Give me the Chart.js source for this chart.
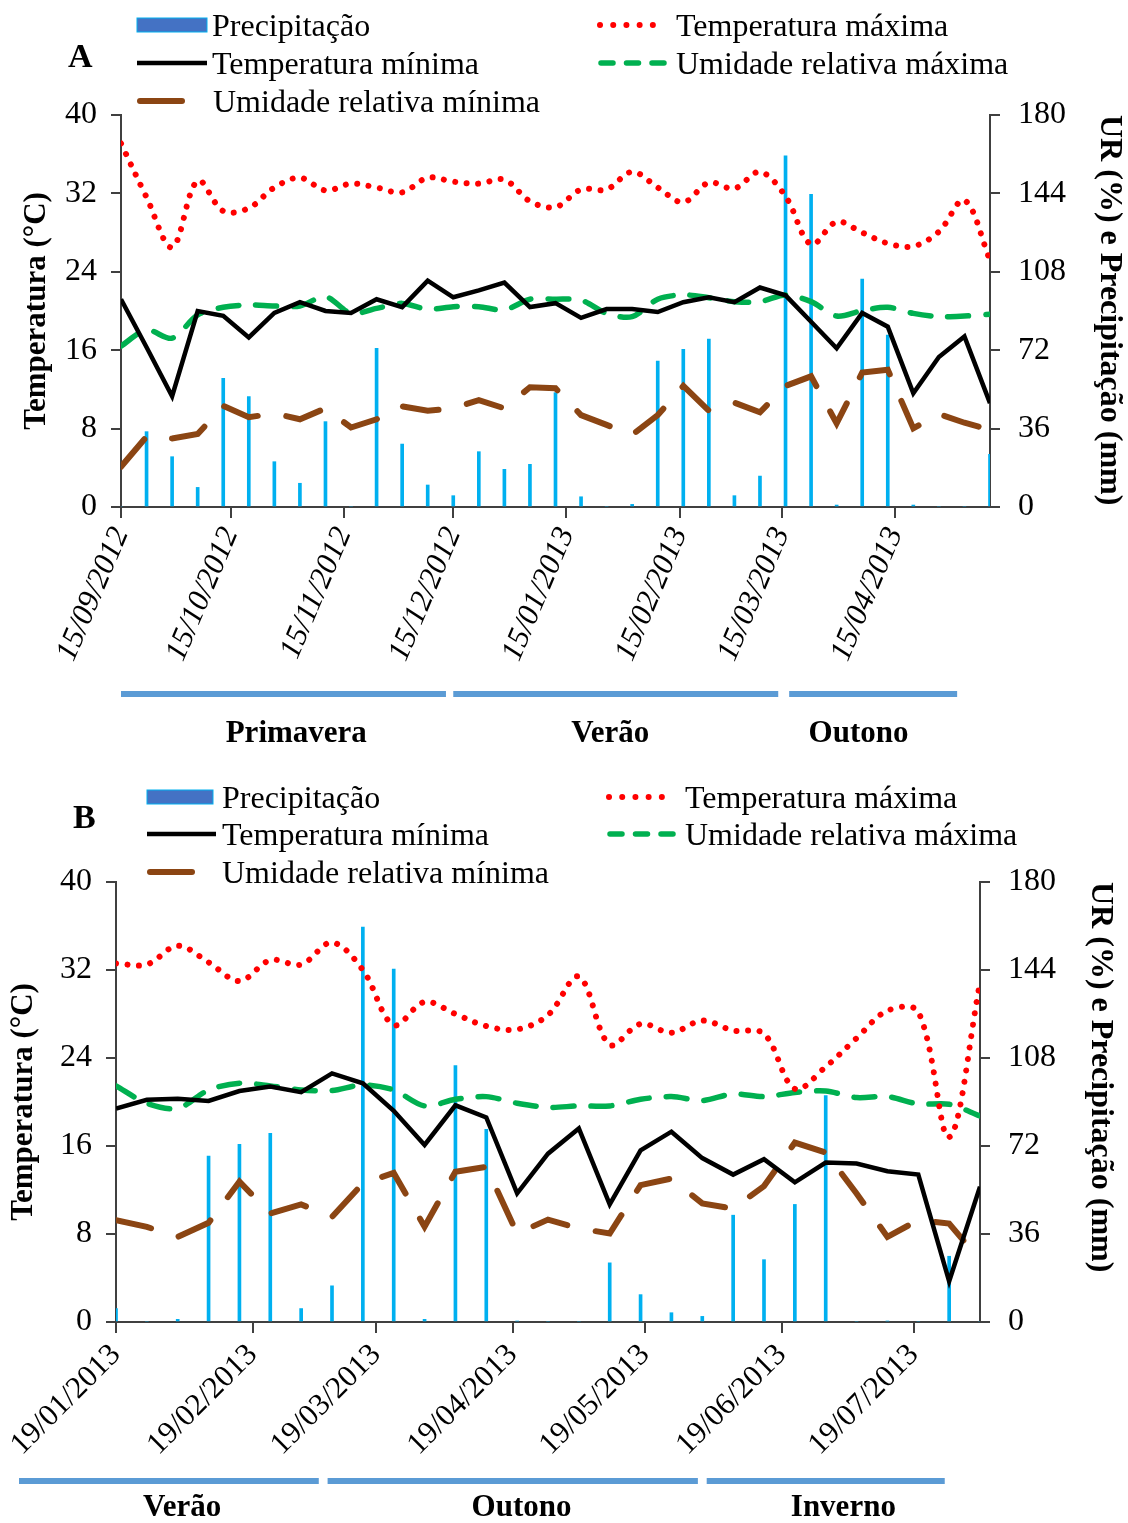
<!DOCTYPE html>
<html><head><meta charset="utf-8">
<script src="https://cdn.jsdelivr.net/npm/chart.js@4.4.1/dist/chart.umd.min.js"></script>
<style>
html,body{margin:0;padding:0;background:#fff;}
#wrap{position:relative;width:1128px;height:1523px;overflow:hidden;background:#fff;}
canvas{position:absolute;left:0;}
</style></head><body>
<div id="wrap">
<canvas id="cA" width="1128" height="770" style="top:0px"></canvas>
<canvas id="cB" width="1128" height="753" style="top:770px"></canvas>
</div>
<script>
// ---------------- Panel A data ----------------
const datesA = ['15/09/2012','22/09/2012','29/09/2012','06/10/2012','13/10/2012','20/10/2012','27/10/2012',
  '03/11/2012','10/11/2012','17/11/2012','24/11/2012','01/12/2012','08/12/2012','15/12/2012','22/12/2012',
  '29/12/2012','05/01/2013','12/01/2013','19/01/2013','26/01/2013','02/02/2013','09/02/2013','16/02/2013',
  '23/02/2013','02/03/2013','09/03/2013','16/03/2013','23/03/2013','30/03/2013','06/04/2013','13/04/2013',
  '20/04/2013','27/04/2013','04/05/2013','11/05/2013'];
const precipA = [0,34.6,23.1,9.0,59.1,50.7,20.8,10.9,39.2,0,72.9,28.9,10.1,5.2,25.4,17.3,19.6,52.5,4.7,0,
  1.2,67.0,72.4,77.1,5.2,14.2,161.2,143.6,0.9,104.7,79.0,0.9,0,0,24.2];
const tmaxA = [37.1,31.6,26.5,33.3,30.2,30.5,32.6,33.6,32.3,33.0,32.6,32.1,33.6,33.2,33.0,33.4,31.2,30.6,32.4,32.4,
  34.2,32.6,31.1,33.1,32.5,34.2,31.7,26.8,29.1,28.0,26.9,26.6,28.1,31.3,25.2];
const tminA = [21.2,16.3,11.3,20.0,19.5,17.3,19.8,20.9,20.0,19.8,21.2,20.4,23.1,21.4,22.1,22.9,20.4,20.8,19.3,20.2,
  20.2,19.9,20.9,21.4,20.9,22.4,21.6,18.9,16.2,19.8,18.4,11.6,15.3,17.4,10.6];
const urmaxA = [73.9,81.3,77.5,88.2,91.7,92.8,92.3,92.3,96.6,88.9,91.2,93.5,90.8,92.0,92.0,90.5,95.4,95.4,95.0,88.9,
  87.4,95.4,97.4,96.1,94.3,94.3,97.4,94.3,87.7,90.2,91.7,88.9,87.4,87.7,88.5];
const urminA = [18.5,32.3,31.5,33.5,46.4,41.2,43.0,40.3,45.3,36.5,40.3,46.2,44.2,45.3,49.1,45.3,55.0,54.5,42.2,37.7,
  33.1,42.2,55.6,44.2,47.9,43.5,55.6,60.0,38.4,61.7,63.0,36.1,42.7,38.7,35.5];
const tickLabelsA = ['15/09/2012','15/10/2012','15/11/2012','15/12/2012','15/01/2013','15/02/2013','15/03/2013','15/04/2013'];
const seasonNamesA = ['Primavera','Verão','Outono'];
const seasonStartA = ['15/09/2012','15/12/2012','17/03/2013'];
const seasonEndA = ['13/12/2012','14/03/2013','02/05/2013'];
const seasonLabelAtA = ['02/11/2012','27/01/2013','05/04/2013'];

// ---------------- Panel B data ----------------
const datesB = ['19/01/2013','26/01/2013','02/02/2013','09/02/2013','16/02/2013','23/02/2013','02/03/2013',
  '09/03/2013','16/03/2013','23/03/2013','30/03/2013','06/04/2013','13/04/2013','20/04/2013','27/04/2013',
  '04/05/2013','11/05/2013','18/05/2013','25/05/2013','01/06/2013','08/06/2013','15/06/2013','22/06/2013',
  '29/06/2013','06/07/2013','13/07/2013','20/07/2013','27/07/2013','03/08/2013'];
const precipB = [5.5,0,1.1,67.9,72.7,77.2,5.5,14.8,161.6,144.4,1.1,104.9,78.8,0.4,0,0,24.2,11.2,3.8,2.3,
  43.7,25.5,48.1,92.6,0,0.4,0,26.9,0];
const tmaxB = [32.6,32.5,34.2,32.7,31.0,32.9,32.5,34.5,32.0,27.0,29.1,28.0,26.9,26.6,27.9,31.4,25.2,27.1,26.3,27.4,
  26.5,26.2,21.2,23.2,25.8,28.3,28.2,16.8,30.8];
const tminB = [19.4,20.2,20.3,20.1,21.0,21.4,20.9,22.6,21.7,19.2,16.1,19.7,18.6,11.7,15.3,17.6,10.7,15.6,17.3,14.9,
  13.4,14.8,12.7,14.5,14.4,13.7,13.4,3.7,12.3];
const urmaxB = [96.6,89.5,87.4,94.9,97.7,96.6,94.9,94.7,97.0,94.9,88.4,91.1,92.2,89.5,87.8,88.4,88.4,91.1,92.2,90.6,
  93.3,92.2,93.9,94.5,91.8,92.2,89.2,89.1,84.3];
const urminB = [41.7,38.9,34.8,40.6,57.4,44.4,48.1,43.0,56.7,61.0,39.0,61.5,63.5,36.2,41.9,38.3,36.2,56.0,58.7,48.5,
  46.4,55.6,73.4,69.3,52.6,34.8,41.7,40.3,25.3];
const tickLabelsB = ['19/01/2013','19/02/2013','19/03/2013','19/04/2013','19/05/2013','19/06/2013','19/07/2013'];
const seasonNamesB = ['Verão','Outono','Inverno'];
const seasonStartB = ['28/12/2012','08/03/2013','02/06/2013'];
const seasonEndB = ['06/03/2013','31/05/2013','26/07/2013'];
const seasonLabelAtB = ['03/02/2013','21/04/2013','03/07/2013'];

const seriesNames = ['Precipitação','Temperatura máxima','Temperatura mínima','Umidade relativa máxima','Umidade relativa mínima'];

// ---------------- helpers ----------------
const FONT = "'Liberation Serif', 'Times New Roman', serif";
Chart.defaults.font.family = FONT;
Chart.defaults.color = '#000';

function parseDate(s){ const [d,m,y] = s.split('/').map(Number); return Date.UTC(y, m-1, d); }
function dayOf(s, s0){ return Math.round((parseDate(s) - parseDate(s0)) / 86400000); }

const AXIS = '#404040';

function makePanel(canvasId, p) {
  const x0 = p.dates[0];
  const xs = p.dates.map(d => dayOf(d, x0));
  const pts = arr => arr.map((v, i) => ({x: xs[i], y: v}));
  const tickDays = p.tickLabels.map(d => dayOf(d, x0));
  const xMax = xs[xs.length - 1];

  const datasets = [
    {type:'bar', label:seriesNames[0], data:pts(p.precip), yAxisID:'yR', xAxisID:'x',
     backgroundColor:'#00B0F0', barThickness:3, order:5},
    {type:'line', label:seriesNames[1], data:pts(p.tmax), yAxisID:'yL', xAxisID:'x',
     borderColor:'#FF0000', borderWidth:6, borderDash:[0.01,11.5], borderCapStyle:'round',
     tension:0.35, pointRadius:0, order:1},
    {type:'line', label:seriesNames[2], data:pts(p.tmin), yAxisID:'yL', xAxisID:'x',
     borderColor:'#000000', borderWidth:4.5, tension:0, pointRadius:0, order:2},
    {type:'line', label:seriesNames[3], data:pts(p.urmax), yAxisID:'yR', xAxisID:'x',
     borderColor:'#00B050', borderWidth:5.5, borderDash:[21,17], borderCapStyle:'round',
     tension:0.3, pointRadius:0, order:3},
    {type:'line', label:seriesNames[4], data:pts(p.urmin), yAxisID:'yR', xAxisID:'x',
     borderColor:'#8B4513', borderWidth:6, borderDash:[36,29], borderCapStyle:'round',
     tension:0, pointRadius:0, order:4}
  ];

  const deco = {
    id: 'deco' + canvasId,
    afterDraw(chart) {
      const ctx = chart.ctx;
      ctx.save();
      // panel letter
      ctx.fillStyle = '#000';
      ctx.font = 'bold 34px ' + FONT;
      ctx.textAlign = 'left'; ctx.textBaseline = 'alphabetic';
      ctx.fillText(p.letter, p.letterX, p.letterY);
      // legend
      p.legend.forEach((it, k) => {
        const ds = datasets[k];
        ctx.save();
        if (ds.type === 'bar') {
          ctx.fillStyle = '#4472C4';
          ctx.fillRect(it.x0, it.y - 7, it.x1 - it.x0, 14);
          ctx.strokeStyle = '#00B0F0'; ctx.lineWidth = 1;
          ctx.strokeRect(it.x0, it.y - 7, it.x1 - it.x0, 14);
        } else {
          ctx.strokeStyle = ds.borderColor;
          ctx.lineWidth = ds.borderWidth;
          ctx.lineCap = ds.borderCapStyle || 'butt';
          ctx.setLineDash(it.dash || []);
          ctx.beginPath(); ctx.moveTo(it.x0, it.y); ctx.lineTo(it.x1, it.y); ctx.stroke();
        }
        ctx.restore();
        ctx.fillStyle = '#000';
        ctx.font = '32px ' + FONT;
        ctx.textAlign = 'left'; ctx.textBaseline = 'alphabetic';
        ctx.fillText(seriesNames[k], it.tx, it.y + 11);
      });
      // seasons
      const sx = chart.scales.x;
      p.seasonNames.forEach((name, k) => {
        const a = sx.getPixelForValue(dayOf(p.seasonStart[k], x0));
        const b = sx.getPixelForValue(dayOf(p.seasonEnd[k], x0));
        ctx.fillStyle = '#5B9BD5';
        ctx.fillRect(a, p.seasonBarY - 3, b - a, 6);
        const c = sx.getPixelForValue(dayOf(p.seasonLabelAt[k], x0));
        ctx.fillStyle = '#000';
        ctx.font = 'bold 31px ' + FONT;
        ctx.textAlign = 'center'; ctx.textBaseline = 'alphabetic';
        ctx.fillText(name, c, p.seasonTextY);
      });
      ctx.restore();
    }
  };

  return new Chart(document.getElementById(canvasId), {
    type: 'line',
    data: { datasets },
    plugins: [deco],
    options: {
      responsive: false, animation: false, devicePixelRatio: 1,
      layout: { padding: { top: p.padTop, left: 0, right: 0, bottom: 0 } },
      plugins: { legend: { display: false }, tooltip: { enabled: false } },
      scales: {
        x: {
          type: 'linear', position: 'bottom', min: 0, max: xMax, offset: false,
          afterBuildTicks: s => { s.ticks = tickDays.map(v => ({ value: v })); },
          afterFit: s => { s.height = p.xHeight; },
          ticks: { autoSkip: false, minRotation: p.rot, maxRotation: p.rot, color: '#000', padding: 4,
                   font: { size: 31, style: p.italic ? 'italic' : 'normal' },
                   callback: (v, i) => p.tickLabels[i] },
          grid: { display: true, drawOnChartArea: false, drawTicks: true, tickLength: 11, color: AXIS, lineWidth: 2, offset: false },
          border: { display: true, color: AXIS, width: 2 }
        },
        yL: {
          type: 'linear', position: 'left', min: 0, max: 40,
          afterFit: s => { s.width = p.yLW; },
          ticks: { stepSize: 8, color: '#000', padding: 14, font: { size: 32 } },
          grid: { display: true, drawOnChartArea: false, tickLength: 10, color: AXIS, lineWidth: 2 },
          border: { display: true, color: AXIS, width: 2 },
          title: { display: true, text: 'Temperatura (°C)', color: '#000',
                   font: { size: 31, weight: 'bold' }, padding: { top: p.tlPad, bottom: 0 } }
        },
        yR: {
          type: 'linear', position: 'right', min: 0, max: 180,
          afterFit: s => { s.width = p.yRW; },
          ticks: { stepSize: 36, color: '#000', padding: 18, font: { size: 32 } },
          grid: { display: true, drawOnChartArea: false, tickLength: 10, color: AXIS, lineWidth: 2 },
          border: { display: true, color: AXIS, width: 2 },
          title: { display: true, text: 'UR (%) e Precipitação (mm)', color: '#000', align: 'end',
                   font: { size: 32, weight: 'bold' }, padding: { top: p.trPad, bottom: 0 } }
        }
      }
    }
  });
}

makePanel('cA', {
  dates: datesA, precip: precipA, tmax: tmaxA, tmin: tminA, urmax: urmaxA, urmin: urminA,
  tickLabels: tickLabelsA, seasonNames: seasonNamesA, seasonStart: seasonStartA, seasonEnd: seasonEndA,
  seasonLabelAt: seasonLabelAtA,
  padTop: 115, xHeight: 263, yLW: 121, yRW: 138, tlPad: 18, trPad: 0, rot: 67, italic: true,
  letter: 'A', letterX: 68, letterY: 67, seasonBarY: 694, seasonTextY: 742,
  legend: [
    { x0: 137, x1: 207, y: 25, tx: 212 },
    { x0: 600, x1: 666, y: 25, tx: 676, dash: [0.01, 13.2] },
    { x0: 137, x1: 207, y: 63, tx: 212 },
    { x0: 601, x1: 664, y: 63, tx: 676, dash: [12, 13.5] },
    { x0: 140, x1: 182, y: 101, tx: 213 }
  ]
});

makePanel('cB', {
  dates: datesB, precip: precipB, tmax: tmaxB, tmin: tminB, urmax: urmaxB, urmin: urminB,
  tickLabels: tickLabelsB, seasonNames: seasonNamesB, seasonStart: seasonStartB, seasonEnd: seasonEndB,
  seasonLabelAt: seasonLabelAtB,
  padTop: 112, xHeight: 201, yLW: 116, yRW: 148, tlPad: 5, trPad: 9, rot: 45, italic: false,
  letter: 'B', letterX: 73, letterY: 58, seasonBarY: 711, seasonTextY: 746,
  legend: [
    { x0: 147, x1: 213, y: 27, tx: 222 },
    { x0: 609, x1: 675, y: 27, tx: 685, dash: [0.01, 13.2] },
    { x0: 147, x1: 216, y: 64, tx: 222 },
    { x0: 610, x1: 673, y: 64, tx: 685, dash: [12, 13.5] },
    { x0: 150, x1: 192, y: 102, tx: 222 }
  ]
});
</script>
</body></html>
